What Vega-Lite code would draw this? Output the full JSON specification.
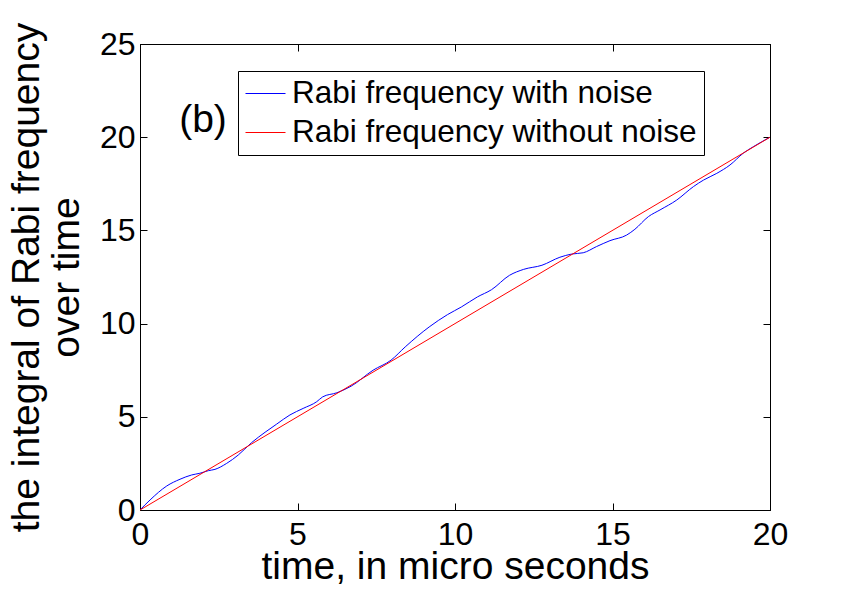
{
  "$schema": "https://vega.github.io/schema/vega-lite/v6.json",
  "width": 630,
  "height": 466,
  "autosize": "none",
  "padding": {"left": 140, "top": 44, "right": 81, "bottom": 81},
  "background": "white",
  "config": {
    "font": "Liberation Sans",
    "view": {"stroke": "black", "strokeWidth": 1},
    "axis": {
      "domainColor": "black",
      "tickColor": "black",
      "labelColor": "black",
      "titleColor": "black",
      "grid": false,
      "labelFont": "Liberation Sans",
      "titleFont": "Liberation Sans",
      "labelFontSize": 32,
      "titleFontSize": 39,
      "titleFontWeight": "normal",
      "tickSize": -7,
      "labelFlush": false,
      "labelOverlap": false
    }
  },
  "datasets": {
    "noise": [
      {"t": 0, "v": 0},
      {"t": 0.32, "v": 0.54},
      {"t": 0.85, "v": 1.29},
      {"t": 1.27, "v": 1.65},
      {"t": 1.64, "v": 1.88},
      {"t": 1.9, "v": 1.97},
      {"t": 2.17, "v": 2.11},
      {"t": 2.38, "v": 2.18},
      {"t": 2.75, "v": 2.5},
      {"t": 3.12, "v": 2.95},
      {"t": 3.54, "v": 3.61},
      {"t": 3.97, "v": 4.17},
      {"t": 4.34, "v": 4.61},
      {"t": 4.76, "v": 5.1},
      {"t": 5.18, "v": 5.45},
      {"t": 5.61, "v": 5.81},
      {"t": 5.8, "v": 6.07},
      {"t": 6.25, "v": 6.29},
      {"t": 6.7, "v": 6.64},
      {"t": 7.4, "v": 7.5},
      {"t": 7.97, "v": 8.04},
      {"t": 8.42, "v": 8.75},
      {"t": 9.18, "v": 9.82},
      {"t": 9.76, "v": 10.48},
      {"t": 10.2, "v": 10.89},
      {"t": 10.71, "v": 11.43},
      {"t": 11.16, "v": 11.82},
      {"t": 11.73, "v": 12.59},
      {"t": 12.18, "v": 12.91},
      {"t": 12.76, "v": 13.13},
      {"t": 13.33, "v": 13.56},
      {"t": 13.7, "v": 13.73},
      {"t": 14.07, "v": 13.8},
      {"t": 14.49, "v": 14.13},
      {"t": 14.92, "v": 14.45},
      {"t": 15.45, "v": 14.75},
      {"t": 15.71, "v": 15.06},
      {"t": 16.14, "v": 15.74},
      {"t": 16.51, "v": 16.1},
      {"t": 17.04, "v": 16.63},
      {"t": 17.57, "v": 17.35},
      {"t": 17.89, "v": 17.7},
      {"t": 18.31, "v": 18.06},
      {"t": 18.73, "v": 18.51},
      {"t": 19.15, "v": 19.14},
      {"t": 19.47, "v": 19.49},
      {"t": 20, "v": 20}
    ],
    "clean": [
      {"t": 0, "v": 0},
      {"t": 20, "v": 20}
    ],
    "note": [
      {"t": 2.0, "v": 20.9, "label": "(b)"}
    ]
  },
  "layer": [
    {
      "data": {"name": "noise"},
      "mark": {"type": "line", "strokeWidth": 1, "interpolate": "monotone"},
      "encoding": {
        "x": {
          "field": "t", "type": "quantitative",
          "scale": {"domain": [0, 20], "nice": false, "zero": false},
          "axis": {"orient": "bottom", "values": [0, 5, 10, 15, 20], "title": "time, in micro seconds", "labelPadding": 16, "titlePadding": -3}
        },
        "y": {
          "field": "v", "type": "quantitative",
          "scale": {"domain": [0, 25], "nice": false, "zero": false},
          "axis": {"orient": "left", "values": [0, 5, 10, 15, 20, 25], "title": ["the integral of Rabi frequency", "over time"], "titleLineHeight": 40, "labelPadding": 12, "titlePadding": 13}
        },
        "color": {
          "datum": "Rabi frequency with noise",
          "type": "nominal",
          "scale": {"domain": ["Rabi frequency with noise", "Rabi frequency without noise"], "range": ["#0000ff", "#ff0000"]},
          "legend": {
            "title": null,
            "orient": "none",
            "legendX": 98,
            "legendY": 27,
            "strokeColor": "black",
            "fillColor": "white",
            "padding": 7,
            "symbolType": "stroke",
            "symbolSize": 1600,
            "symbolStrokeWidth": 1,
            "labelFont": "Liberation Sans",
            "labelFontSize": 31.5,
            "labelColor": "black",
            "labelOffset": 6,
            "rowPadding": 7,
            "clipHeight": 31,
            "labelLimit": 1000
          }
        }
      }
    },
    {
      "data": {"name": "clean"},
      "mark": {"type": "line", "strokeWidth": 1},
      "encoding": {
        "x": {
          "field": "t", "type": "quantitative",
          "axis": {"orient": "top", "values": [0, 5, 10, 15, 20], "labels": false, "title": null}
        },
        "y": {
          "field": "v", "type": "quantitative",
          "axis": {"orient": "right", "values": [0, 5, 10, 15, 20, 25], "labels": false, "title": null}
        },
        "color": {"datum": "Rabi frequency without noise", "type": "nominal"}
      }
    },
    {
      "data": {"name": "note"},
      "mark": {"type": "text", "fontSize": 39, "font": "Liberation Sans", "color": "black", "align": "center", "baseline": "middle"},
      "encoding": {
        "x": {"field": "t", "type": "quantitative", "axis": null},
        "y": {"field": "v", "type": "quantitative", "axis": null},
        "text": {"field": "label"}
      }
    }
  ]
}
